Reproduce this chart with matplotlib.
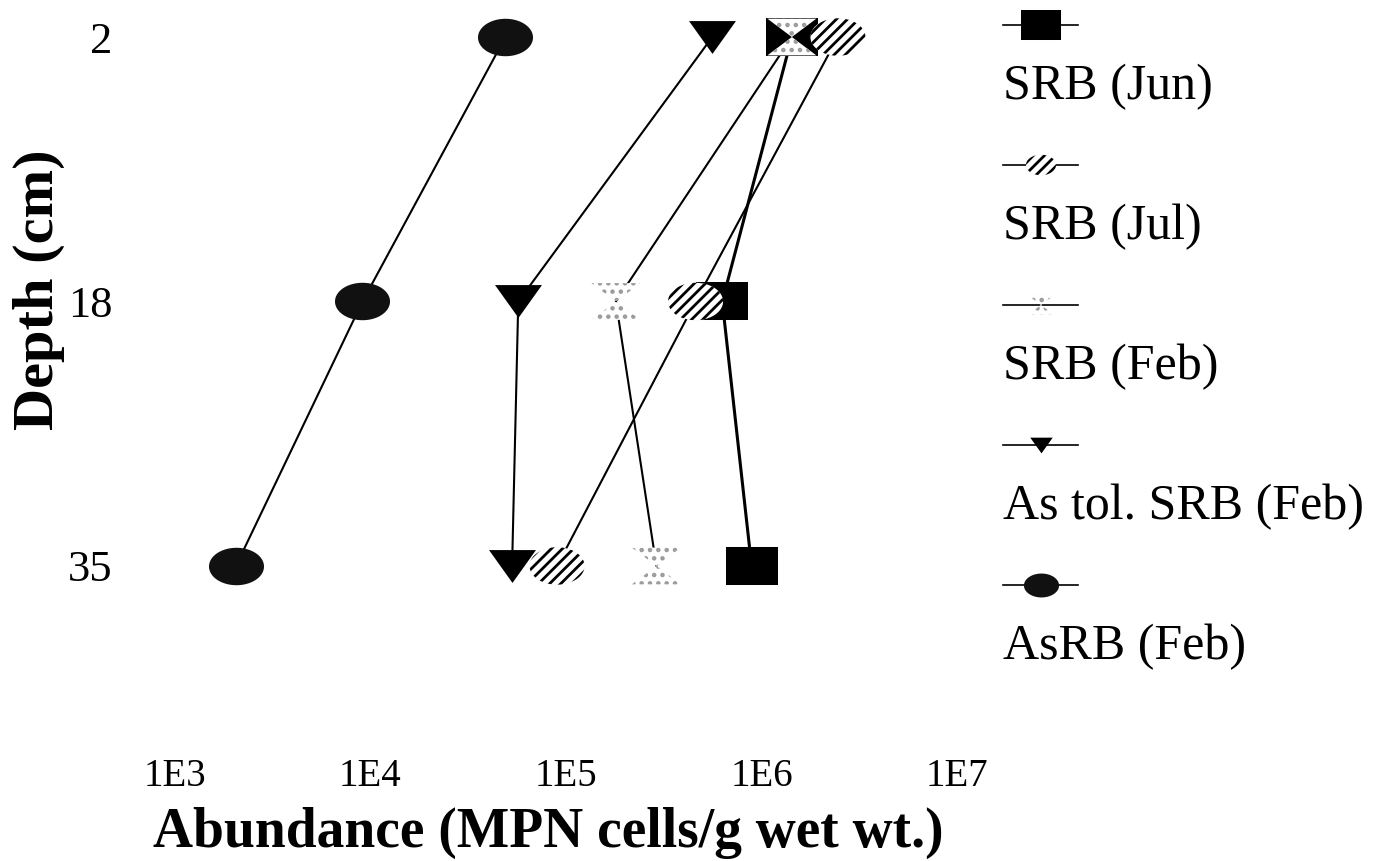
import numpy as np
import matplotlib
matplotlib.use("Agg")
import matplotlib.pyplot as plt
from matplotlib.path import Path

plt.rcParams['font.family'] = ['Liberation Serif', 'DejaVu Serif']
plt.rcParams['hatch.linewidth'] = 2.0

depths = ["2", "18", "35"]
labels = ["SRB (Jun)", "SRB (Jul)", "SRB (Feb)", "As tol. SRB (Feb)", "AsRB (Feb)"]
srb_jun = [1.43e6, 6.3e5, 8.9e5]
srb_jul = [2.46e6, 4.6e5, 9.0e4]
srb_feb = [1.43e6, 1.8e5, 2.9e5]
astol_feb = [5.6e5, 5.7e4, 5.3e4]
asrb_feb = [4.9e4, 9.1e3, 2.05e3]
xticks = [1e3, 1e4, 1e5, 1e6, 1e7]
xticklabels = ["1E3", "1E4", "1E5", "1E6", "1E7"]

# marker shapes (wider than tall, like the scanned figure)
t = np.linspace(0, 2 * np.pi, 80)
ellipse = Path(np.column_stack([np.cos(t), 0.68 * np.sin(t)]))
box = Path([(-1, -0.75), (1, -0.75), (1, 0.75), (-1, 0.75), (-1, -0.75)], closed=True)
hourglass = Path([(-1, 0.75), (1, 0.75), (-1, -0.75), (1, -0.75), (-1, 0.75)], closed=True)
tri = Path([(-1, 0.7), (1, 0.7), (0, -0.7), (-1, 0.7)], closed=True)

styles = [
    dict(marker=box, s=1400, facecolor='black', edgecolor='black', lw=2.2, hatch=None),
    dict(marker=ellipse, s=1570, facecolor='white', edgecolor='black', lw=1.5, hatch='///'),
    dict(marker=hourglass, s=1245, facecolor='white', edgecolor='#9a9a9a', lw=1.5, hatch='..'),
    dict(marker=tri, s=1140, facecolor='black', edgecolor='black', lw=1.5, hatch=None),
    dict(marker=ellipse, s=1570, facecolor='#111111', edgecolor='#111111', lw=1.5, hatch=None),
]
legend_sizes = [830, 470, 330, 260, 640]
values = [srb_jun, srb_jul, srb_feb, astol_feb, asrb_feb]

W, H = 1378, 861
fig = plt.figure(figsize=(W / 100, H / 100), dpi=100)
ax = fig.add_axes([116.35 / W, (H - 745) / H, 879.75 / W, 745 / H])

ypos = np.arange(len(depths))
for vals, st in zip(values, styles):
    ax.plot(vals, ypos, color='black', lw=st['lw'], zorder=2)
for k, (vals, st) in enumerate(zip(values, styles)):
    ax.scatter(vals, ypos, marker=st['marker'], s=st['s'], facecolor=st['facecolor'],
               edgecolor=st['edgecolor'], linewidths=0.01, hatch=st['hatch'], zorder=3 + k)

ax.set_xscale('log')
ax.set_xlim(10 ** 2.7, 10 ** 7.2)
ax.set_ylim(2.677, -0.14)
ax.set_xticks(xticks)
ax.set_xticklabels(xticklabels, fontsize=28)
ax.minorticks_off()
ax.set_yticks(ypos)
ax.set_yticklabels(depths, fontsize=32)
ax.tick_params(axis='both', length=0)
ax.tick_params(axis='x', pad=9)
ax.tick_params(axis='y', pad=3)
for sp in ax.spines.values():
    sp.set_visible(False)

ax.set_xlabel("Abundance (MPN cells/g wet wt.)", fontsize=40, fontweight='bold')
ax.xaxis.set_label_coords(0.491, -0.083)
ax.set_ylabel("Depth (cm)", fontsize=42, fontweight='bold')
ax.yaxis.set_label_coords(-0.058, 0.611)

# legend: symbol on one row, label on the next
lax = fig.add_axes([990 / W, (H - 700) / H, 388 / W, 700 / H])
lax.set_xlim(990, 1378)
lax.set_ylim(700, 0)
lax.axis('off')
for i, (lab, st, ls) in enumerate(zip(labels, styles, legend_sizes)):
    y = 25 + 140 * i
    lax.plot([1003, 1078], [y, y], color='black', lw=1.2, zorder=2)
    lax.scatter([1041], [y], marker=st['marker'], s=ls, facecolor=st['facecolor'],
                edgecolor=st['edgecolor'], linewidths=0.01, hatch=st['hatch'], zorder=3)
    lax.text(1003, y + 62, lab, fontsize=36, ha='left', va='center')

fig.savefig("out.png", dpi=100, facecolor='white')
